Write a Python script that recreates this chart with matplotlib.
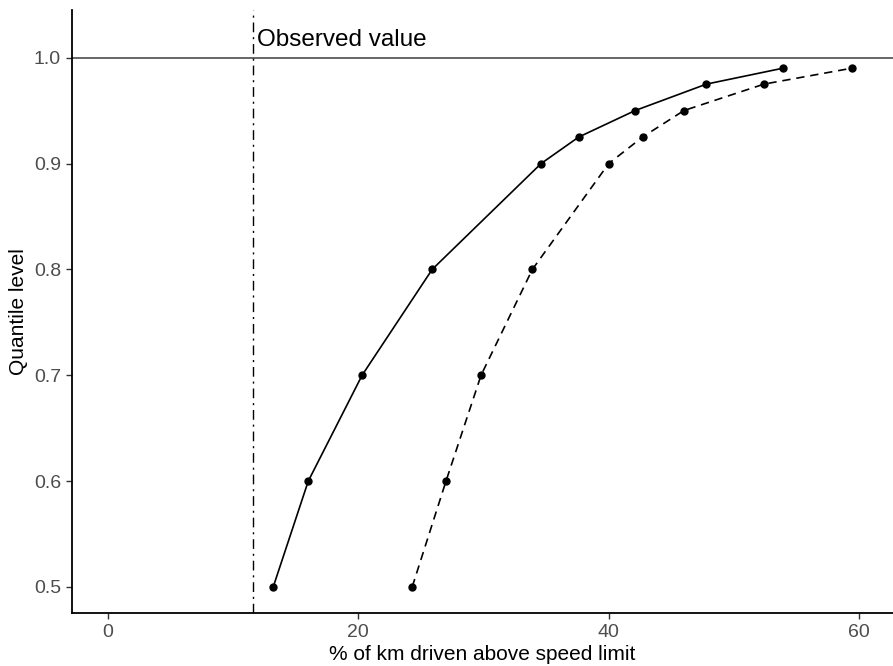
import matplotlib

matplotlib.use("Agg")
import matplotlib.pyplot as plt

plt.rcParams["font.family"] = ["Liberation Sans", "DejaVu Sans"]

# quantile levels and the two quantile curves (% of km above speed limit)
levels = [0.5, 0.6, 0.7, 0.8, 0.9, 0.925, 0.95, 0.975, 0.99]
solid_q = [13.2, 16.0, 20.3, 25.9, 34.6, 37.6, 42.1, 47.8, 53.9]
dashed_q = [24.3, 27.0, 29.8, 33.9, 40.0, 42.7, 46.0, 52.4, 59.4]
observed = 11.57
x_ticks = [0, 20, 40, 60]
y_ticks = [0.5, 0.6, 0.7, 0.8, 0.9, 1.0]

fig = plt.figure(figsize=(8.93, 6.66), dpi=100)
ax = fig.add_axes([72 / 893, 53 / 666, 1 - 72 / 893, (613 - 10) / 666])

ax.axhline(1.0, color="#4d4d4d", lw=1.2, zorder=1)
ax.axvline(observed, color="black", lw=1.0, dashes=(7, 3.5, 1.5, 3.5), zorder=1)
ax.text(observed + 0.35, 1.0165, "Observed value", fontsize=17.5, va="center", ha="left")

ax.plot(solid_q, levels, color="black", lw=1.2, marker="o", ms=5)
ax.plot(dashed_q, levels, color="black", lw=1.2, dashes=(5, 3.5), marker="o", ms=5)

ax.set_xlim(-2.87, 62.7)
ax.set_ylim(0.4754, 1.045)
ax.set_xticks(x_ticks)
ax.set_yticks(y_ticks)
ax.set_yticklabels([f"{v:.1f}" for v in y_ticks])
ax.tick_params(colors="#333333", labelcolor="#4d4d4d", labelsize=14, length=4, width=1, pad=4)
ax.set_xlabel("% of km driven above speed limit", fontsize=15, labelpad=3)
ax.set_ylabel("Quantile level", fontsize=15, labelpad=4)

for side in ["top", "right"]:
    ax.spines[side].set_visible(False)
for side in ["left", "bottom"]:
    ax.spines[side].set_linewidth(1.3)

fig.savefig("out.png", dpi=100)
plt.close(fig)
